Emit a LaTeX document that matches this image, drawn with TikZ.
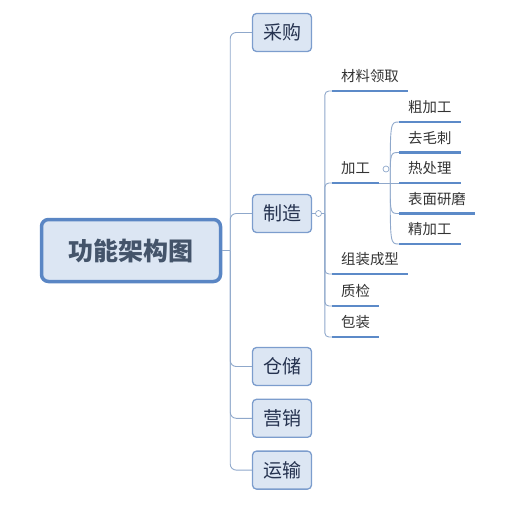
\documentclass[tikz,border=0pt]{standalone}
\usepackage{fontspec}
\setmainfont{Noto Sans CJK SC}
\usetikzlibrary{positioning}
\definecolor{rootblue}{HTML}{5A86C4}
\definecolor{boxfill}{HTML}{DCE6F3}
\definecolor{boxline}{HTML}{7C9DCD}
\definecolor{linkline}{HTML}{8FA8CB}
\definecolor{ulblue}{HTML}{5C8AC8}
\definecolor{roottext}{HTML}{44546A}
\definecolor{topictext}{HTML}{25324F}
\tikzstyle{rootbox} = [rectangle, rounded corners=7pt, minimum width=179pt, minimum height=62pt, inner sep=0pt, draw=rootblue, line width=3.5pt, fill=boxfill, text=roottext, font=\fontsize{25}{30}\selectfont\bfseries]
\tikzstyle{topic} = [rectangle, rounded corners=4pt, minimum width=59pt, minimum height=38pt, inner sep=0pt, draw=boxline, line width=1.3pt, fill=boxfill, text=topictext, font=\fontsize{19}{23}\selectfont]
\tikzstyle{sub} = [anchor=south west, inner xsep=9pt, inner ysep=0pt, text height=12pt, text depth=9pt, text=black!80, font=\fontsize{14.4}{17}\selectfont]
\tikzstyle{link} = [linkline, line width=0.9pt, rounded corners=6pt]
\tikzstyle{uline} = [ulblue, line width=2.6pt]
\tikzstyle{fold} = [circle, draw=linkline, fill=white, line width=0.7pt, minimum size=6pt, inner sep=0pt]

\begin{document}
\begin{tikzpicture}[x=1pt,y=-1pt]
\useasboundingbox (0,0) rectangle (514,507);
% root and main topics
\node (root) [rootbox] at (131,250.5) {功能架构图};
\node (cg) [topic] at (282,32.5) {采购};
\node (zhz) [topic] at (282,213.5) {制造};
\node (cc) [topic] at (282,366.5) {仓储};
\node (yx) [topic, below=12.5pt of cc] {营销};
\node (ys) [topic, below=12.5pt of yx] {运输};
\coordinate (rootj) at ([xshift=8pt]root.east);
\draw [link] (root.east) -- (rootj);
\draw [link] (rootj) |- (cg.west);
\draw [link] (rootj) |- (zhz.west);
\draw [link] (rootj) |- (cc.west);
\draw [link] (rootj) |- (yx.west);
\draw [link] (rootj) |- (ys.west);
% 制造
\node (f1) [fold, right=3pt of zhz] {};
\node (cl) [sub] at (332,91) {材料领取};
\node (jg) [sub] at (332,183) {加工};
\node (zx) [sub] at (332,274) {组装成型};
\node (zj) [sub, below=32pt of zx.south west, anchor=south west] {质检};
\node (bz) [sub, below=31pt of zj.south west, anchor=south west] {包装};
\coordinate (zhzj) at ([xshift=3pt]f1.east);
\draw [link] (zhz.east) -- (f1.west);
\draw [link] (f1.east) -- (zhzj);
\draw [link, rounded corners=4pt] (zhzj) |- (cl.south west);
\draw [link, rounded corners=4pt] (zhzj) |- (jg.south west);
\draw [link, rounded corners=4pt] (zhzj) |- (zx.south west);
\draw [link, rounded corners=4pt] (zhzj) |- (zj.south west);
\draw [link, rounded corners=4pt] (zhzj) |- (bz.south west);
% 加工
\node (f2) [fold] at (386,169) {};
\node (cjg) [sub] at (399,122) {粗加工};
\node (qmc) [sub, below=30.5pt of cjg.south west, anchor=south west] {去毛刺};
\node (rcl) [sub, below=30.5pt of qmc.south west, anchor=south west] {热处理};
\node (bm) [sub, below=30.5pt of rcl.south west, anchor=south west] {表面研磨};
\node (jjg) [sub, below=30.5pt of bm.south west, anchor=south west] {精加工};
\coordinate (jgj) at ([xshift=11pt]jg.south east);
\draw [link] (jg.south east) -- (jgj);
\draw [link] (jgj) .. controls (jgj |- cjg.south west) .. (cjg.south west);
\draw [link] (jgj) .. controls (jgj |- qmc.south west) .. (qmc.south west);
\draw [link] (jgj) -- (rcl.south west);
\draw [link] (jgj) .. controls (jgj |- bm.south west) .. (bm.south west);
\draw [link] (jgj) .. controls (jgj |- jjg.south west) .. (jjg.south west);
% underlines
\foreach \n in {cl,jg,zx,zj,bz,cjg,qmc,rcl,bm,jjg}
  \draw [uline] (\n.south west) -- (\n.south east);
\end{tikzpicture}
\end{document}
